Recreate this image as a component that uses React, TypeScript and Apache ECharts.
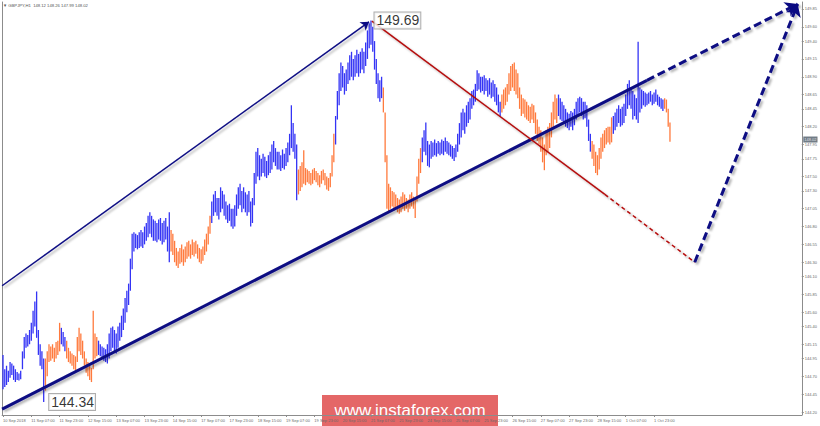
import React, { useEffect, useRef } from 'react';
import * as echarts from 'echarts';

// ---- axis labels ----
const timeLabels = [
  '10 Sep 2018', '11 Sep 07:00', '11 Sep 23:00', '12 Sep 15:00', '13 Sep 07:00', '13 Sep 23:00',
  '14 Sep 15:00', '17 Sep 07:00', '17 Sep 23:00', '18 Sep 15:00', '19 Sep 07:00', '19 Sep 23:00',
  '20 Sep 15:00', '21 Sep 07:00', '21 Sep 23:00', '24 Sep 15:00', '25 Sep 07:00', '25 Sep 23:00',
  '26 Sep 15:00', '27 Sep 07:00', '27 Sep 23:00', '28 Sep 15:00', '1 Oct 07:00', '1 Oct 23:00',
];
const barsPerLabel = 16;
const totalSlots = 452;

const priceTicks = [
  149.85, 149.6, 149.4, 149.15, 148.9, 148.65, 148.45, 148.2, 147.95, 147.75, 147.5, 147.3, 147.05,
  146.8, 146.55, 146.3, 146.1, 145.85, 145.6, 145.4, 145.15, 144.95, 144.7, 144.45, 144.2,
];

// ---- hourly bars (GBPJPY H1) ----
const lows = [
  144.52, 144.55, 144.58, 144.62, 144.68, 144.72, 144.65, 144.62, 144.65, 144.64,
  144.66, 144.80, 144.95, 145.10, 145.12, 145.15, 145.20, 145.30, 145.40, 145.24,
  145.00, 144.85, 144.80, 144.34, 144.50, 144.70, 144.90, 144.92, 144.95, 144.90,
  144.95, 145.00, 145.05, 145.15, 145.12, 145.05, 144.95, 144.90, 144.88, 144.85,
  144.80, 144.78, 144.90, 145.05, 145.00, 144.95, 144.85, 144.75, 144.70, 144.65,
  144.62, 144.80, 144.95, 144.98, 145.00, 144.98, 144.95, 144.92, 144.90, 144.88,
  144.95, 145.05, 145.10, 145.05, 145.02, 145.10, 145.20, 145.25, 145.35, 145.45,
  145.60, 145.70, 145.90, 146.20, 146.45, 146.50, 146.48, 146.50, 146.52, 146.50,
  146.55, 146.60, 146.65, 146.70, 146.65, 146.60, 146.60, 146.58, 146.62, 146.60,
  146.55, 146.58, 146.62, 146.45, 146.30, 146.45, 146.40, 146.30, 146.25, 146.22,
  146.28, 146.30, 146.25, 146.30, 146.35, 146.38, 146.35, 146.40, 146.38, 146.42,
  146.35, 146.30, 146.28, 146.32, 146.40, 146.45, 146.55, 146.70, 146.85, 146.95,
  147.00, 146.95, 146.90, 147.00, 147.05, 146.95, 146.90, 146.85, 146.88, 146.80,
  146.77, 146.80, 146.95, 147.05, 147.10, 147.00, 147.05, 147.00, 146.95, 147.00,
  146.80, 146.85, 147.10, 147.40, 147.50, 147.45, 147.50, 147.55, 147.50, 147.48,
  147.52, 147.55, 147.60, 147.70, 147.65, 147.60, 147.60, 147.58, 147.62, 147.60,
  147.65, 147.70, 147.80, 147.90, 147.85, 147.75, 147.17, 147.25, 147.30, 147.35,
  147.40, 147.38, 147.42, 147.40, 147.38, 147.40, 147.45, 147.42, 147.38, 147.35,
  147.40, 147.45, 147.38, 147.32, 147.30, 147.35, 147.50, 147.70, 147.95, 148.30,
  148.50, 148.70, 148.75, 148.65, 148.70, 148.80, 148.85, 148.90, 148.85, 148.90,
  148.95, 148.90, 148.95, 149.00, 148.95, 149.05, 149.15, 149.30, 149.35, 149.25,
  149.00, 148.80, 148.60, 148.55, 148.60, 148.40, 147.70, 147.05, 147.00, 147.05,
  147.08, 147.02, 147.05, 147.00, 146.98, 147.00, 147.05, 147.02, 147.05, 147.00,
  147.05, 147.08, 147.05, 146.92, 147.15, 147.40, 147.55, 147.70, 147.85, 147.80,
  147.65, 147.63, 147.75, 147.78, 147.80, 147.78, 147.82, 147.80, 147.82, 147.80,
  147.85, 147.82, 147.80, 147.78, 147.75, 147.72, 147.77, 147.85, 147.95, 148.05,
  148.15, 148.10, 148.20, 148.25, 148.30, 148.45, 148.50, 148.55, 148.70, 148.72,
  148.68, 148.70, 148.65, 148.70, 148.62, 148.65, 148.60, 148.62, 148.55, 148.50,
  148.40, 148.34, 148.40, 148.45, 148.50, 148.55, 148.65, 148.70, 148.75, 148.70,
  148.65, 148.60, 148.45, 148.35, 148.38, 148.33, 148.30, 148.28, 148.25, 148.30,
  148.25, 148.10, 148.00, 147.95, 147.85, 147.70, 147.59, 147.80, 147.85, 147.90,
  148.05, 148.20, 148.30, 148.25, 148.35, 148.30, 148.28, 148.25, 148.20, 148.18,
  148.15, 148.20, 148.15, 148.22, 148.30, 148.35, 148.40, 148.35, 148.30, 148.32,
  148.20, 148.00, 147.85, 147.75, 147.65, 147.55, 147.52, 147.60, 147.75, 147.85,
  147.90, 147.95, 147.98, 147.95, 147.98, 148.10, 148.15, 148.20, 148.25, 148.20,
  148.22, 148.25, 148.35, 148.45, 148.50, 148.45, 148.30, 148.35, 148.30, 148.25,
  148.40, 148.45, 148.50, 148.48, 148.50, 148.52, 148.55, 148.50, 148.52, 148.55,
  148.50, 148.48, 148.45, 148.42, 148.45, 148.40, 148.20, 147.99,
];
const highs = [
  145.00, 144.80, 144.85, 144.78, 144.90, 144.88, 144.85, 144.80, 144.76, 144.74,
  144.78, 145.05, 145.25, 145.30, 145.28, 145.35, 145.45, 145.62, 145.75, 145.89,
  145.35, 145.15, 145.05, 144.95, 144.95, 145.05, 145.15, 145.12, 145.15, 145.10,
  145.18, 145.20, 145.45, 145.38, 145.32, 145.25, 145.20, 145.10, 145.05, 145.02,
  145.00, 144.98, 145.25, 145.38, 145.30, 145.20, 145.05, 144.95, 144.90, 144.85,
  144.82, 145.62, 145.30, 145.25, 145.20, 145.15, 145.12, 145.10, 145.08, 145.15,
  145.30, 145.38, 145.40, 145.35, 145.30, 145.40, 145.45, 145.55, 145.65, 145.80,
  145.90, 146.00, 146.35, 146.70, 146.72, 146.70, 146.68, 146.72, 146.75, 146.72,
  146.80, 146.85, 146.95, 147.00, 146.95, 146.90, 146.88, 146.85, 146.90, 146.92,
  146.85, 146.88, 146.92, 146.80, 147.00, 146.75, 146.70, 146.60, 146.50, 146.45,
  146.50, 146.55, 146.48, 146.52, 146.58, 146.60, 146.55, 146.62, 146.58, 146.60,
  146.55, 146.50, 146.48, 146.52, 146.62, 146.70, 146.80, 146.95, 147.15, 147.25,
  147.30, 147.20, 147.20, 147.35, 147.30, 147.25, 147.15, 147.10, 147.12, 147.05,
  147.05, 147.10, 147.25, 147.35, 147.40, 147.30, 147.35, 147.28, 147.25, 147.30,
  147.15, 147.20, 147.55, 147.85, 147.90, 147.80, 147.75, 147.82, 147.78, 147.72,
  147.80, 147.85, 147.95, 148.00, 147.90, 147.85, 147.85, 147.80, 147.88, 147.82,
  147.90, 147.98, 148.10, 148.50, 148.25, 148.10, 147.95, 147.60, 147.65, 147.70,
  147.87, 147.62, 147.60, 147.58, 147.55, 147.60, 147.62, 147.58, 147.55, 147.52,
  147.58, 147.60, 147.55, 147.50, 147.48, 147.55, 147.80, 148.10, 148.35, 148.70,
  148.95, 149.10, 149.05, 148.95, 149.00, 149.10, 149.20, 149.25, 149.15, 149.20,
  149.28, 149.22, 149.25, 149.30, 149.25, 149.38, 149.55, 149.65, 149.69, 149.60,
  149.40, 149.15, 148.95, 148.85, 148.90, 148.75, 148.40, 147.80, 147.40, 147.35,
  147.30, 147.28, 147.25, 147.20, 147.18, 147.22, 147.28, 147.25, 147.20, 147.18,
  147.25, 147.28, 147.22, 147.20, 147.50, 147.75, 147.90, 148.05, 148.15, 148.26,
  148.00, 147.95, 148.00, 147.98, 148.02, 147.97, 148.00, 147.98, 148.02, 148.00,
  148.05, 148.00, 147.98, 147.95, 147.93, 147.90, 147.95, 148.10, 148.25, 148.40,
  148.45, 148.40, 148.50, 148.55, 148.60, 148.70, 148.72, 148.80, 148.99, 148.95,
  148.90, 148.90, 148.92, 148.88, 148.85, 148.88, 148.82, 148.85, 148.80, 148.75,
  148.65, 148.55, 148.65, 148.72, 148.75, 148.80, 148.95, 149.05, 149.08, 149.10,
  149.00, 148.95, 148.75, 148.65, 148.60, 148.58, 148.55, 148.50, 148.48, 148.52,
  148.50, 148.40, 148.30, 148.20, 148.15, 148.05, 147.95, 148.15, 148.20, 148.25,
  148.40, 148.55, 148.65, 148.60, 148.65, 148.60, 148.55, 148.50, 148.45, 148.40,
  148.38, 148.42, 148.40, 148.45, 148.55, 148.60, 148.62, 148.60, 148.55, 148.55,
  148.50, 148.30, 148.10, 148.00, 147.95, 147.85, 147.80, 147.90, 148.05, 148.10,
  148.15, 148.18, 148.20, 148.20, 148.33, 148.35, 148.40, 148.45, 148.50, 148.45,
  148.48, 148.52, 148.65, 148.80, 148.85, 148.75, 148.70, 148.65, 148.60, 149.39,
  148.75, 148.72, 148.70, 148.68, 148.66, 148.68, 148.70, 148.65, 148.68, 148.72,
  148.65, 148.62, 148.60, 148.58, 148.60, 148.58, 148.45, 148.26,
];
// bar index ranges drawn in orange (correction waves); all others blue
const orangeRanges = [
  [24, 32], [36, 53], [95, 117], [167, 187], [215, 236], [282, 313], [333, 344], [374, 377],
];

// ---- wave lines: [barIndex, price] ----
const upperArrow = [[-0.5, 145.97], [206.9, 149.67]];
const supportSolid = [[-0.5, 144.24], [364.0, 148.85]];
const supportDashed = [[364.0, 148.85], [449.2, 149.92]];
const redSolid = [[208.5, 149.68], [340.2, 147.25]];
const redDashed = [[340.2, 147.25], [391.0, 146.3]];
const blueDashed = [[391.0, 146.3], [449.2, 149.92]];

const extremes = [
  { idx: 208, price: 149.69, text: '149.69', gap: 3 },
  { idx: 23, price: 144.34, text: '144.34', gap: 5 },
];
const lastPrice = 148.02;
const headerText = '▼ GBPJPY,H1  148.12 148.26 147.99 148.02';

const BLUE = '#3434f5';
const ORANGE = '#ff7a3d';
const NAVY = '#0a0a82';
const RED = '#b40a0a';
const AXIS = '#8c8c8c';
const FONT = '"Liberation Sans", Arial, sans-serif';

const Y_MIN = 144.158;
const Y_MAX = 149.948;

function isOrange(i: number) {
  return orangeRanges.some(([a, b]) => i >= a && i <= b) ? 1 : 0;
}

const shadow = {
  shadowColor: 'rgba(0,0,0,0.3)',
  shadowBlur: 2,
  shadowOffsetX: 2,
  shadowOffsetY: 2,
};

function seg(pts: number[][], style: any, arrow: boolean, size: number = 8) {
  return [
    { coord: pts[0], symbol: 'none', lineStyle: { ...shadow, ...style } },
    { coord: pts[1], symbol: arrow ? 'arrow' : 'none', symbolSize: size },
  ];
}

export default function App() {
  const ref = useRef<HTMLDivElement>(null);

  useEffect(() => {
    if (!ref.current) return;
    const chart = echarts.init(ref.current, undefined, { renderer: 'svg' });
    const labelPos = timeLabels.map((_, k) => k * barsPerLabel);

    const option: any = {
      animation: false,
      backgroundColor: '#ffffff',
      grid: { left: 2, right: 18, top: 2, bottom: 11, containLabel: false },
      xAxis: {
        type: 'value',
        min: -0.5,
        max: totalSlots - 0.5,
        axisLine: { show: true, onZero: false, lineStyle: { color: AXIS, width: 1 } },
        axisTick: { show: true, customValues: labelPos, length: 2, lineStyle: { color: AXIS } },
        axisLabel: {
          customValues: labelPos,
          formatter: (v: number) => timeLabels[Math.round(v / barsPerLabel)] ?? '',
          fontSize: 4,
          color: '#6a6a6a',
          align: 'left',
          margin: 3,
          fontFamily: FONT,
        },
        splitLine: { show: false },
      },
      yAxis: [
        {
          type: 'value',
          position: 'right',
          min: Y_MIN,
          max: Y_MAX,
          axisLine: { show: true, onZero: false, lineStyle: { color: AXIS, width: 1 } },
          axisTick: { show: true, customValues: priceTicks, length: 2, lineStyle: { color: AXIS } },
          axisLabel: {
            customValues: priceTicks,
            formatter: (v: number) => v.toFixed(2),
            fontSize: 4,
            color: '#6a6a6a',
            margin: 3,
            fontFamily: FONT,
          },
          splitLine: { show: false },
        },
        {
          type: 'value',
          position: 'left',
          min: Y_MIN,
          max: Y_MAX,
          axisLine: { show: true, onZero: false, lineStyle: { color: AXIS, width: 1 } },
          axisTick: { show: false },
          axisLabel: { show: false },
          splitLine: { show: false },
        },
      ],
      graphic: [
        {
          type: 'text',
          left: 3,
          top: 3,
          style: { text: headerText, fontSize: 4.2, fill: '#555', fontFamily: FONT },
          silent: true,
        },
        {
          type: 'group',
          left: 322,
          top: 395,
          children: [
            { type: 'rect', shape: { x: 0, y: 0, width: 176, height: 31 }, style: { fill: 'rgba(222,70,70,0.82)' } },
            {
              type: 'text',
              x: 88,
              y: 15,
              style: {
                text: 'www.instaforex.com',
                fontSize: 17,
                fill: '#ffffff',
                fontFamily: FONT,
                align: 'center',
                verticalAlign: 'middle',
              },
            },
          ],
          silent: true,
          z: 100,
        },
      ],
      series: [
        {
          type: 'custom',
          coordinateSystem: 'cartesian2d',
          silent: true,
          encode: { x: 0, y: [1, 2] },
          data: lows.map((l, i) => [i, l, highs[i], isOrange(i)]),
          renderItem: (_params: any, api: any) => {
            const i = api.value(0);
            const lo = api.coord([i, api.value(1)]);
            const hi = api.coord([i, api.value(2)]);
            return {
              type: 'rect',
              shape: { x: lo[0] - 0.65, y: hi[1], width: 1.3, height: Math.max(1, lo[1] - hi[1]) },
              style: { fill: api.value(3) === 1 ? ORANGE : BLUE },
            };
          },
          markLine: {
            silent: true,
            animation: false,
            symbol: ['none', 'none'],
            label: { show: false },
            emphasis: { disabled: true },
            data: [
              seg(upperArrow, { color: NAVY, width: 1.5, type: 'solid' }, true, 8),
              seg(supportSolid, { color: NAVY, width: 3, type: 'solid' }, false),
              seg(supportDashed, { color: NAVY, width: 3, type: [8, 4] }, true, 12),
              seg(redSolid, { color: RED, width: 1.5, type: 'solid' }, false),
              seg(redDashed, { color: RED, width: 1.5, type: [4, 3] }, false),
              seg(blueDashed, { color: NAVY, width: 3, type: [8, 4] }, true, 12),
            ],
          },
        },
        {
          type: 'scatter',
          silent: true,
          symbol: 'circle',
          symbolSize: 1,
          itemStyle: { color: 'rgba(0,0,0,0)' },
          data: extremes.map((e) => ({
            value: [e.idx, e.price],
            label: {
              show: true,
              position: 'right',
              distance: e.gap,
              formatter: e.text,
              fontSize: 14,
              lineHeight: 15,
              color: '#000',
              fontFamily: FONT,
              backgroundColor: '#ffffff',
              borderColor: '#9a9a9a',
              borderWidth: 1,
              padding: [1, 1, 0, 2],
            },
          })),
          z: 10,
        },
        {
          type: 'scatter',
          silent: true,
          symbol: 'circle',
          symbolSize: 1,
          clip: false,
          itemStyle: { color: 'rgba(0,0,0,0)' },
          data: [
            {
              value: [totalSlots - 0.5, lastPrice],
              label: {
                show: true,
                position: 'right',
                distance: 1,
                formatter: lastPrice.toFixed(2),
                fontSize: 4,
                color: '#ffffff',
                fontFamily: FONT,
                backgroundColor: '#4e5b68',
                padding: [1, 1, 1, 1],
              },
            },
          ],
          z: 10,
        },
      ],
    };

    chart.setOption(option);
    return () => chart.dispose();
  }, []);

  return (
    <div
      ref={ref}
      style={{ position: 'absolute', left: 0, top: 0, width: 820, height: 426, background: '#fff' }}
    />
  );
}
